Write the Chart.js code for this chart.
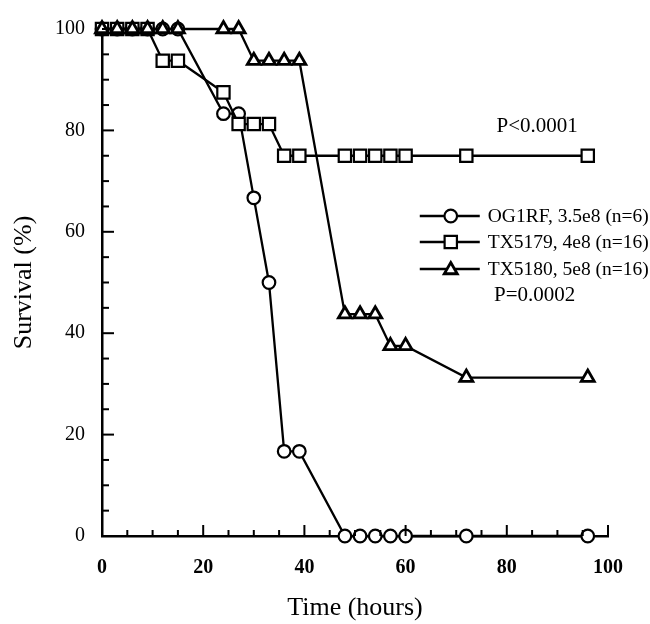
<!DOCTYPE html>
<html>
<head>
<meta charset="utf-8">
<script src="https://cdn.jsdelivr.net/npm/chart.js@4.4.1/dist/chart.umd.min.js"></script>
<style>
  html, body { margin: 0; padding: 0; background: #fff; }
  #wrap { width: 650px; height: 624px; position: relative; }
</style>
</head>
<body>
<div id="wrap"><canvas id="c" width="650" height="624"></canvas></div>
<script>
// ---- data ----
const times = [0, 3, 6, 9, 12, 15, 24, 27, 30, 33, 36, 39, 48, 51, 54, 57, 60, 72, 96];
const og1rf  = [100, 100, 100, 100, 100, 100, 83.3, 83.3, 66.7, 50, 16.7, 16.7, 0, 0, 0, 0, 0, 0, 0];
const tx5179 = [100, 100, 100, 100, 93.75, 93.75, 87.5, 81.25, 81.25, 81.25, 75, 75, 75, 75, 75, 75, 75, 75, 75];
const tx5180 = [100, 100, 100, 100, 100, 100, 100, 100, 93.75, 93.75, 93.75, 93.75, 43.75, 43.75, 43.75, 37.5, 37.5, 31.25, 31.25];
const seriesLabels = ['OG1RF, 3.5e8 (n=6)', 'TX5179, 4e8 (n=16)', 'TX5180, 5e8 (n=16)'];
const xTicks = [0, 20, 40, 60, 80, 100];
const yTicks = [0, 20, 40, 60, 80, 100];
const pLabels = [
  { text: 'P<0.0001', x: 86, y: 80.8 },
  { text: 'P=0.0002', x: 85.5, y: 47.5 }
];

const SERIF = '"Liberation Serif", "DejaVu Serif", serif';
const pts = (ys) => times.map((t, i) => ({ x: t, y: ys[i] }));

const styles = [
  { pointStyle: 'circle',   pointRadius: 6.3, pointBorderWidth: 2.2, order: 3 },
  { pointStyle: 'rect',     pointRadius: 8.7, pointBorderWidth: 2.2, order: 2 },
  { pointStyle: 'triangle', pointRadius: 7.5, pointBorderWidth: 2.8, order: 1 }
];
const values = [og1rf, tx5179, tx5180];

const datasets = values.map((v, i) => ({
  label: seriesLabels[i],
  data: pts(v),
  borderColor: '#000',
  borderWidth: 2.3,
  backgroundColor: '#fff',
  pointBackgroundColor: '#fff',
  pointBorderColor: '#000',
  pointStyle: styles[i].pointStyle,
  pointRadius: styles[i].pointRadius,
  pointBorderWidth: styles[i].pointBorderWidth,
  pointHoverRadius: styles[i].pointRadius,
  order: styles[i].order,
  tension: 0,
  fill: false,
  clip: false
}));

function drawMarker(ctx, style, r, bw, x, y) {
  ctx.save();
  ctx.lineWidth = bw;
  ctx.strokeStyle = '#000';
  ctx.fillStyle = '#fff';
  ctx.beginPath();
  if (style === 'circle') {
    ctx.arc(x, y, r, 0, Math.PI * 2);
  } else if (style === 'rect') {
    const s = r * Math.SQRT1_2;
    ctx.rect(x - s, y - s, 2 * s, 2 * s);
  } else {
    let rad = 0;
    const t = 2 * Math.PI / 3;
    ctx.moveTo(x + Math.sin(rad) * r, y - Math.cos(rad) * r);
    rad += t; ctx.lineTo(x + Math.sin(rad) * r, y - Math.cos(rad) * r);
    rad += t; ctx.lineTo(x + Math.sin(rad) * r, y - Math.cos(rad) * r);
    ctx.closePath();
  }
  ctx.fill();
  ctx.stroke();
  ctx.restore();
}

const decorPlugin = {
  id: 'decor',
  afterDraw(chart) {
    const { ctx, chartArea, scales } = chart;
    const xs = scales.x, ys = scales.y;
    ctx.save();
    ctx.strokeStyle = '#000';
    ctx.lineWidth = 2;
    // inner x ticks
    const y0 = ys.getPixelForValue(0);
    for (let v = 0; v <= 100; v += 5) {
      const px = xs.getPixelForValue(v);
      const len = (v % 20 === 0) ? 11 : 6;
      ctx.beginPath(); ctx.moveTo(px, y0); ctx.lineTo(px, y0 - len); ctx.stroke();
    }
    // inner y ticks
    const x0 = xs.getPixelForValue(0);
    for (let v = 0; v <= 100; v += 5) {
      const py = ys.getPixelForValue(v);
      const len = (v % 20 === 0) ? 12 : 7;
      ctx.beginPath(); ctx.moveTo(x0, py); ctx.lineTo(x0 + len, py); ctx.stroke();
    }
    ctx.restore();

    // P-value annotations
    ctx.save();
    ctx.fillStyle = '#000';
    ctx.font = '21px ' + SERIF;
    ctx.textAlign = 'center';
    ctx.textBaseline = 'middle';
    pLabels.forEach(p => {
      ctx.fillText(p.text, xs.getPixelForValue(p.x), ys.getPixelForValue(p.y));
    });
    ctx.restore();

    // legend
    const lx0 = chartArea.left + (chartArea.right - chartArea.left) * 0.628;
    const lx1 = lx0 + 60;
    const mx = lx0 + 31;
    const tx = lx1 + 8;
    const rowY = [216, 242, 269];
    ctx.save();
    ctx.font = '19.5px ' + SERIF;
    ctx.textAlign = 'left';
    ctx.textBaseline = 'middle';
    datasets.forEach((d, i) => {
      const yy = rowY[i];
      ctx.strokeStyle = '#000';
      ctx.lineWidth = 2.3;
      ctx.beginPath(); ctx.moveTo(lx0, yy); ctx.lineTo(lx1, yy); ctx.stroke();
      drawMarker(ctx, d.pointStyle, d.pointRadius, d.pointBorderWidth, mx, yy + (d.pointStyle === 'triangle' ? 1 : 0));
      ctx.fillStyle = '#000';
      ctx.fillText(d.label, tx, yy + 1);
    });
    ctx.restore();
  }
};

new Chart(document.getElementById('c'), {
  type: 'line',
  data: { datasets },
  options: {
    responsive: false,
    animation: false,
    devicePixelRatio: 1,
    layout: { padding: { top: 22, right: 42, left: 0, bottom: 0 } },
    plugins: { legend: { display: false }, tooltip: { enabled: false } },
    scales: {
      x: {
        type: 'linear',
        min: 0, max: 100,
        afterFit(scale) { scale.height = 88; },
        afterBuildTicks(scale) { scale.ticks = xTicks.map(v => ({ value: v })); },
        grid: { display: false, drawTicks: false, tickLength: 0 },
        border: { display: true, color: '#000', width: 2.5 },
        ticks: {
          autoSkip: false, maxRotation: 0, padding: 20, color: '#000',
          font: { family: SERIF, size: 20, weight: 'bold' }
        },
        title: {
          display: true, text: 'Time (hours)', color: '#000',
          font: { family: SERIF, size: 26 }, padding: { top: 0, bottom: 0 }
        }
      },
      y: {
        type: 'linear',
        min: 0, max: 100,
        afterFit(scale) { scale.width = 102; },
        afterBuildTicks(scale) { scale.ticks = yTicks.map(v => ({ value: v })); },
        grid: { display: false, drawTicks: false, tickLength: 0 },
        border: { display: true, color: '#000', width: 2.5 },
        ticks: {
          autoSkip: false, padding: 17, color: '#000',
          font: { family: SERIF, size: 20 }
        },
        title: {
          display: true, text: 'Survival (%)', color: '#000',
          font: { family: SERIF, size: 26 }, padding: { top: 9, bottom: 0 }
        }
      }
    }
  },
  plugins: [decorPlugin]
});
</script>
</body>
</html>
